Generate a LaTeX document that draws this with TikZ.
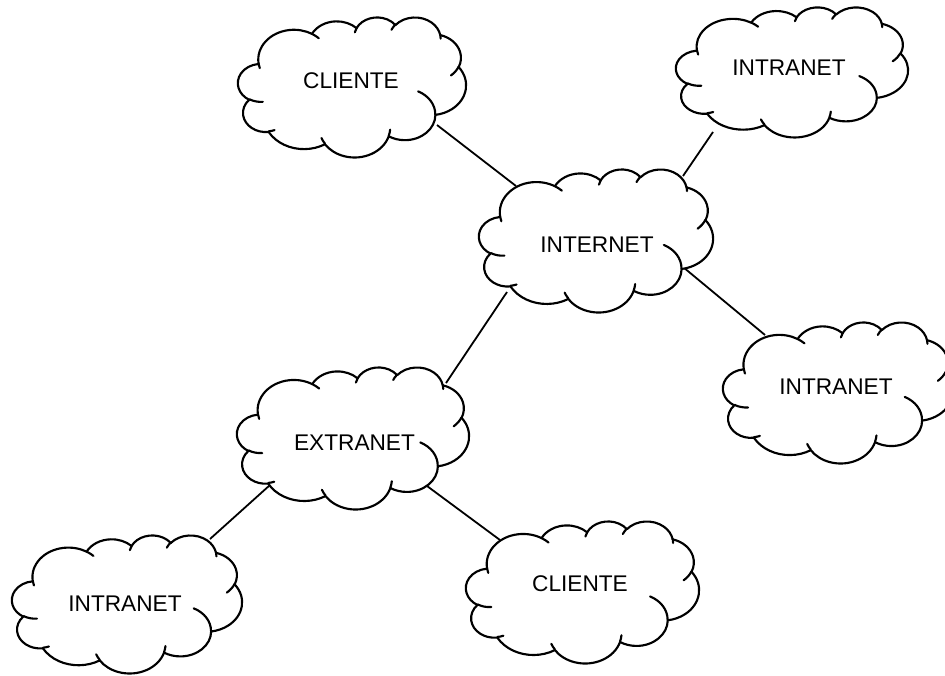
\documentclass[tikz,border=0pt]{standalone}
\usepackage{fontspec}
\setmainfont{Liberation Sans}
\tikzset{
  declare function={vang(\a,\rx,\ry)=atan2(sin(\a)/\ry,cos(\a)/\rx);},
  oarc/.style n args={4}{x radius=#1, y radius=#2, start angle={vang(#3,#1,#2)}, delta angle={mod(vang(#3+#4,#1,#2)-vang(#3,#1,#2)+720,360)}},
  cloudline/.style={line width=1.6pt, line join=round, line cap=round},
  conn/.style={line width=1.35pt},
  lbl/.style={font=\fontsize{17}{20}\selectfont, inner sep=0pt},
}
\newcommand\cloudat[4]{%
 \pgfmathsetmacro\cxs{#3/43.2}\pgfmathsetmacro\cys{#4/43.2}%
 \begin{scope}[shift={(#1,#2)}, xscale=\cxs, yscale=\cys]
 \draw[cloudline, fill=white] (3.9,14.37)
   arc[oarc={6.753}{9.190}{-190.4875}{123.7805}]
   arc[oarc={5.333}{7.267}{-144.1024}{89.9452}]
   arc[oarc={4.365}{5.945}{-145.8079}{99.7230}]
   arc[oarc={4.857}{6.595}{-130.9861}{117.2417}]
   arc[oarc={5.333}{7.273}{-78.7089}{109.0269}]
   arc[oarc={6.775}{9.220}{-46.2673}{130.2690}]
   arc[oarc={5.785}{7.867}{0.6250}{114.0333}]
   arc[oarc={6.752}{9.215}{22.4516}{115.1726}]
   arc[oarc={7.720}{10.543}{66.2426}{75.7110}]
   arc[oarc={4.360}{5.918}{-274.9421}{146.7356}]
   arc[oarc={4.345}{5.945}{-246.8285}{152.5189}]
   -- cycle;
 \draw[cloudline]
   (4.693,26.177) arc[oarc={4.345}{5.945}{86.7420}{26.4295}]
   (6.928,34.899) arc[oarc={4.360}{5.918}{73.6105}{11.4475}]
   (16.478,39.090) arc[oarc={6.752}{9.215}{137.6242}{14.0811}]
   (28.827,34.751) arc[oarc={6.752}{9.215}{6.4533}{15.9984}]
   (34.129,22.954) arc[oarc={5.785}{7.867}{-70.2924}{70.9174}]
   (41.798,15.354) arc[oarc={5.333}{7.273}{30.3180}{27.7515}]
   (38.324,5.426) arc[oarc={4.857}{6.595}{-13.7443}{14.8589}]
   (29.078,3.952) arc[oarc={4.857}{6.595}{-149.1815}{18.1954}]
   (22.141,4.720) arc[oarc={4.365}{5.945}{-163.4943}{17.6864}]
   (14.000,5.192) arc[oarc={6.753}{9.190}{-66.7070}{12.3194}]
   (4.127,15.789) arc[oarc={6.753}{9.190}{157.6544}{11.8582}];
 \end{scope}}
\begin{document}
\begin{tikzpicture}[x=0.75pt, y=-0.75pt]
\useasboundingbox (0,0) rectangle (945,675);
% connector end points
\coordinate (c1s) at (437,125);  \coordinate (c1e) at (516,186);
\coordinate (c2s) at (713,132);  \coordinate (c2e) at (683,176);
\coordinate (c3s) at (683,267);  \coordinate (c3e) at (765,335);
\coordinate (c4s) at (507,292);  \coordinate (c4e) at (446,383);
\coordinate (c5s) at (270,485);  \coordinate (c5e) at (210,539);
\coordinate (c6s) at (427,486);  \coordinate (c6e) at (500,540);
\draw[conn] (c1s) -- (c1e);
\draw[conn] (c2s) -- (c2e);
\draw[conn] (c3s) -- (c3e);
\draw[conn] (c4s) -- (c4e);
\draw[conn] (c5s) -- (c5e);
\draw[conn] (c6s) -- (c6e);
% clouds
\cloudat{238}{17}{228}{140}
\cloudat{676}{7}{232}{130}
\cloudat{479}{169}{234}{143}
\cloudat{723}{322}{230}{141}
\cloudat{237}{367}{232}{142}
\cloudat{12}{535}{230}{138}
\cloudat{466}{521}{233}{142}
% labels
\node[lbl] (cliente1) at (351,81) {CLIENTE};
\node[lbl] (intranet1) at (789,68) {INTRANET};
\node[lbl] (internet) at (597,245) {INTERNET};
\node[lbl] (intranet2) at (836,387) {INTRANET};
\node[lbl] (extranet) at (354.5,443) {EXTRANET};
\node[lbl] (intranet3) at (125,604) {INTRANET};
\node[lbl] (cliente2) at (580,584) {CLIENTE};
\end{tikzpicture}
\end{document}
